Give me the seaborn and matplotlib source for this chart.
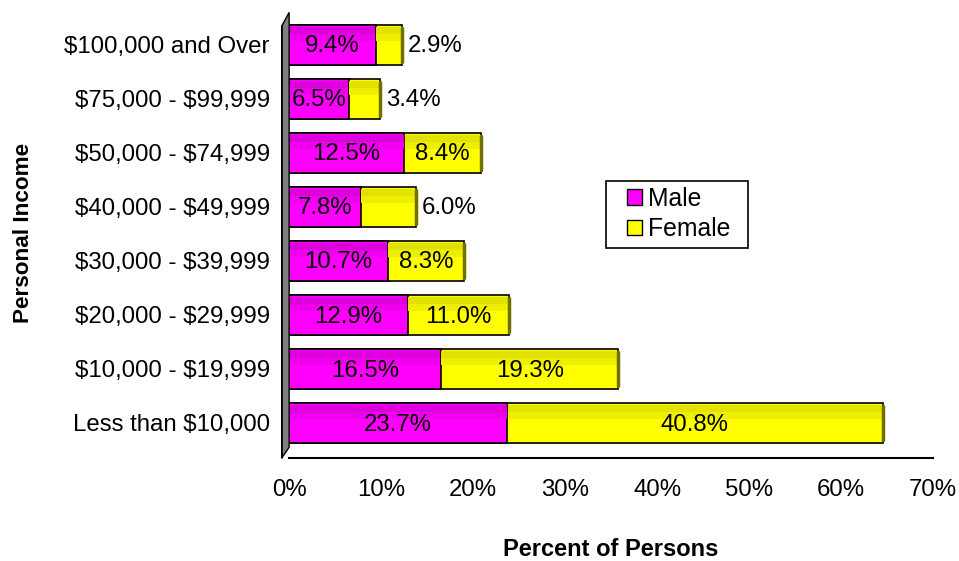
import matplotlib
matplotlib.use("Agg")
import matplotlib.pyplot as plt
from matplotlib.patches import Polygon, Rectangle
import seaborn as sns
import pandas as pd

# data, listed from top of chart to bottom
categories = ["$100,000 and Over", "$75,000 - $99,999", "$50,000 - $74,999",
              "$40,000 - $49,999", "$30,000 - $39,999", "$20,000 - $29,999",
              "$10,000 - $19,999", "Less than $10,000"]
male = [9.4, 6.5, 12.5, 7.8, 10.7, 12.9, 16.5, 23.7]
female = [2.9, 3.4, 8.4, 6.0, 8.3, 11.0, 19.3, 40.8]
xticks = [0, 10, 20, 30, 40, 50, 60, 70]

df = pd.DataFrame({"income": categories, "Male": male, "Female": female})
df["total"] = df["Male"] + df["Female"]

sns.set_style("white")
plt.rcParams["font.family"] = ["Liberation Sans", "DejaVu Sans"]
plt.rcParams["text.parse_math"] = False
plt.rcParams["text.color"] = "black"
plt.rcParams["xtick.color"] = "black"
plt.rcParams["ytick.color"] = "black"
plt.rcParams["axes.labelcolor"] = "black"

fs = 17.3

fig = plt.figure(figsize=(9.59, 5.61), dpi=100)
ax = fig.add_axes([0.3015, 0.1836, 0.6715, 0.7894])

bw = 0.74
sns.barplot(data=df, x="total", y="income", order=categories, orient="h",
            color="#FFFF00", saturation=1, width=bw, edgecolor="black",
            linewidth=1.2, ax=ax, zorder=2)
sns.barplot(data=df, x="Male", y="income", order=categories, orient="h",
            color="#FF00FF", saturation=1, width=bw, edgecolor="black",
            linewidth=1.2, ax=ax, zorder=3)

# shaded bands for the 3-D look
for i, row in df.iterrows():
    top = i - bw / 2
    for off, h, cm, cf in [(0.04, 0.12, "#DD00DD", "#E2E200"),
                           (0.16, 0.14, "#EE00EE", "#EEEE00")]:
        ax.barh(top + off + h / 2, row["Male"] - 0.12, left=0.06, height=h,
                color=cm, linewidth=0, zorder=4)
        ax.barh(top + off + h / 2, row["Female"] - 0.12, left=row["Male"] + 0.06,
                height=h, color=cf, linewidth=0, zorder=4)
    # end cap
    ax.plot([row["total"], row["total"]], [i - bw / 2 + 0.06, i + bw / 2 - 0.06],
            color="#707000", lw=2.5, zorder=5)

# value labels
for i, row in df.iterrows():
    ax.text(row["Male"] / 2, i + 0.03, f"{row['Male']:.1f}%", ha="center",
            va="center", fontsize=fs, zorder=6)
    if row["Female"] >= 7:
        ax.text(row["Male"] + row["Female"] / 2, i + 0.03, f"{row['Female']:.1f}%",
                ha="center", va="center", fontsize=fs, zorder=6)
    else:
        ax.text(row["total"] + 0.6, i + 0.03, f"{row['Female']:.1f}%", ha="left",
                va="center", fontsize=fs, zorder=6)

ax.set_xlim(0, 70)
ax.set_ylim(7.65, -0.55)
ax.set_xticks(xticks)
ax.set_xticklabels([f"{t}%" for t in xticks], fontsize=fs)
ax.tick_params(axis="x", direction="out", length=7, width=1.2, pad=8)

# tick marks between categories, labels at centers
ax.set_yticks([i + 0.5 for i in range(-1, 8)])
ax.set_yticklabels([])
ax.set_yticks(range(len(categories)), minor=True)
ax.set_yticklabels(categories, minor=True, fontsize=fs)
ax.tick_params(axis="y", which="major", direction="out", length=8, width=1.2)
ax.tick_params(axis="y", which="minor", length=0, pad=14)

for s in ["top", "right"]:
    ax.spines[s].set_visible(False)
ax.spines["bottom"].set_color("black")
ax.spines["bottom"].set_linewidth(1.5)
ax.spines["left"].set_visible(False)

# gray side wall
wall = Polygon([(-0.8, 7.65), (-0.8, -0.35), (0.0, -0.6), (0.0, 7.45)],
               closed=True, facecolor="#808080", edgecolor="black", lw=1,
               clip_on=False, zorder=1)
ax.add_patch(wall)
ax.plot([-0.8, -0.8], [7.65, -0.35], color="black", lw=1.2, clip_on=False)

ax.set_xlabel("Percent of Persons", fontsize=17, fontweight="bold",
              labelpad=27)
ax.set_ylabel("")
fig.text(0.024, 0.585, "Personal Income", rotation=90, ha="center",
         va="center", fontsize=16.2, fontweight="bold")

# legend with a hand-sized frame
fig.patches.append(Rectangle((606 / 959, 1 - 248 / 561), 142 / 959, 67 / 561,
                             transform=fig.transFigure, facecolor="white",
                             edgecolor="black", lw=1.2, zorder=5))
handles = [plt.Rectangle((0, 0), 1, 1, facecolor="#FF00FF", edgecolor="black"),
           plt.Rectangle((0, 0), 1, 1, facecolor="#FFFF00", edgecolor="black")]
leg = fig.legend(handles, ["Male", "Female"], loc="upper left",
                 bbox_to_anchor=(627 / 959, 1 - 187 / 561), frameon=False,
                 fontsize=17.8, handlelength=0.6, handleheight=0.6,
                 handletextpad=0.25, borderpad=0, labelspacing=0.25,
                 borderaxespad=0)
leg.set_zorder(6)

fig.savefig("out.png", dpi=100)
